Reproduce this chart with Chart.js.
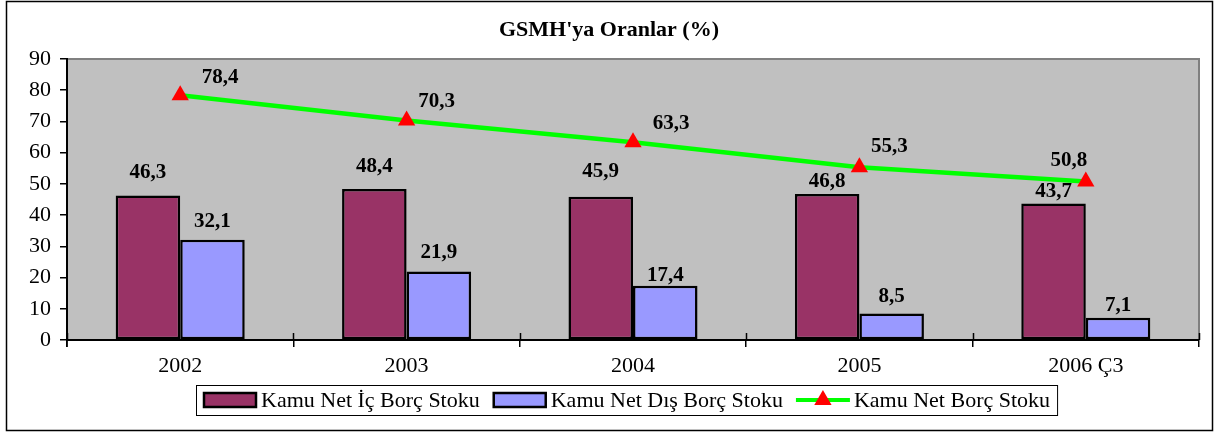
<!DOCTYPE html>
<html>
<head>
<meta charset="utf-8">
<script src="https://cdn.jsdelivr.net/npm/chart.js@4/dist/chart.umd.min.js"></script>
<style>
  html, body { margin: 0; padding: 0; background: #fff; }
  #wrap { width: 1218px; height: 434px; }
</style>
</head>
<body>
<div id="wrap"><canvas id="chart" width="1218" height="434"></canvas></div>
<script>
// Chart data
const categories = ['2002', '2003', '2004', '2005', '2006 Ç3'];
const icBorc = [46.3, 48.4, 45.9, 46.8, 43.7];
const disBorc = [32.1, 21.9, 17.4, 8.5, 7.1];
const netBorc = [78.4, 70.3, 63.3, 55.3, 50.8];
const seriesNames = ['Kamu Net İç Borç Stoku', 'Kamu Net Dış Borç Stoku', 'Kamu Net Borç Stoku'];
const titleText = "GSMH'ya Oranlar (%)";

// label nudges (px), like the hand-moved labels in the original
const icLabelDy = [-23, -22, -25, -12, -12];
const disLabelDy = [-18, -19, -10, -17, -12];
const netLabelOffset = [[40, -18], [30, -19], [38, -19], [30, -21], [-17, -21]];

const FONT = 'Liberation Serif, Times New Roman, serif';
Chart.defaults.font.family = FONT;
Chart.defaults.color = '#000';

// Background, outer frame and plot area
const framePlugin = {
  id: 'frame',
  beforeDraw(chart) {
    const { ctx, chartArea: a } = chart;
    ctx.save();
    ctx.fillStyle = '#fff';
    ctx.fillRect(0, 0, chart.width, chart.height);
    ctx.strokeStyle = '#000';
    ctx.lineWidth = 1.5;
    ctx.strokeRect(6.5, 1.5, 1206, 429);
    ctx.fillStyle = '#C0C0C0';
    ctx.fillRect(a.left, a.top, a.right - a.left, a.bottom - a.top);
    ctx.strokeStyle = '#808080';
    ctx.lineWidth = 2;
    ctx.beginPath();
    ctx.moveTo(a.left, a.top);
    ctx.lineTo(a.right, a.top);
    ctx.lineTo(a.right, a.bottom);
    ctx.stroke();
    ctx.restore();
  },
  // tick marks crossing the category axis, Excel style
  beforeDatasetsDraw(chart) {
    const { ctx, chartArea: a } = chart;
    const xs = chart.scales.x;
    ctx.save();
    ctx.strokeStyle = '#000';
    ctx.lineWidth = 1.5;
    ctx.beginPath();
    for (let i = 0; i <= categories.length; i++) {
      const px = Math.round(xs.getPixelForValue(i - 0.5)) + 0.5;
      ctx.moveTo(px, a.bottom - 7);
      ctx.lineTo(px, a.bottom);
    }
    ctx.moveTo(a.left, a.bottom);
    ctx.lineTo(a.left, a.bottom + 7);
    ctx.stroke();
    ctx.restore();
  }
};

// Value labels
const labelPlugin = {
  id: 'valueLabels',
  afterDatasetsDraw(chart) {
    const ctx = chart.ctx;
    ctx.save();
    ctx.font = 'bold 21px ' + FONT;
    ctx.fillStyle = '#000';
    ctx.textAlign = 'center';
    ctx.textBaseline = 'middle';
    const fmt = v => v.toFixed(1).replace('.', ',');
    chart.getDatasetMeta(0).data.forEach((el, i) => {
      ctx.fillText(fmt(icBorc[i]), el.x, el.y + icLabelDy[i]);
    });
    chart.getDatasetMeta(1).data.forEach((el, i) => {
      ctx.fillText(fmt(disBorc[i]), el.x, el.y + disLabelDy[i]);
    });
    chart.getDatasetMeta(2).data.forEach((el, i) => {
      ctx.fillText(fmt(netBorc[i]), el.x + netLabelOffset[i][0], el.y + netLabelOffset[i][1]);
    });
    ctx.restore();
  }
};

// Boxed legend drawn at the bottom
const legendPlugin = {
  id: 'boxLegend',
  afterDraw(chart) {
    const ctx = chart.ctx;
    const ds = chart.data.datasets;
    ctx.save();
    ctx.font = '22px ' + FONT;
    const symW = 54, gapText = 4, gapItem = 13, pad = 7;
    const widths = ds.map(d => ctx.measureText(d.label).width);
    let total = pad * 2 - gapItem;
    widths.forEach(w => { total += symW + gapText + w + gapItem; });
    const top = 385, h = 30, cx = 627;
    const left = Math.round(cx - total / 2);
    ctx.fillStyle = '#fff';
    ctx.fillRect(left, top, total, h);
    ctx.strokeStyle = '#000';
    ctx.lineWidth = 1;
    ctx.strokeRect(left + 0.5, top + 0.5, total, h);
    let x = left + pad;
    const my = top + h / 2;
    ds.forEach((d, i) => {
      if (d.type === 'line') {
        ctx.strokeStyle = d.borderColor;
        ctx.lineWidth = 4;
        ctx.beginPath();
        ctx.moveTo(x, my);
        ctx.lineTo(x + symW, my);
        ctx.stroke();
        ctx.fillStyle = d.pointBackgroundColor;
        const r = 10, px = x + symW / 2;
        ctx.beginPath();
        ctx.moveTo(px, my - r);
        ctx.lineTo(px + r * 0.866, my + r / 2);
        ctx.lineTo(px - r * 0.866, my + r / 2);
        ctx.closePath();
        ctx.fill();
      } else {
        ctx.fillStyle = d.backgroundColor;
        ctx.fillRect(x + 1, my - 7, symW - 2, 14);
        ctx.strokeStyle = '#000';
        ctx.lineWidth = 2.5;
        ctx.strokeRect(x + 1, my - 7, symW - 2, 14);
      }
      x += symW + gapText;
      ctx.fillStyle = '#000';
      ctx.textAlign = 'left';
      ctx.textBaseline = 'middle';
      ctx.fillText(d.label, x, my + 1);
      x += widths[i] + gapItem;
    });
    ctx.restore();
  }
};

new Chart(document.getElementById('chart'), {
  type: 'bar',
  data: {
    labels: categories,
    datasets: [
      {
        label: seriesNames[0],
        data: icBorc,
        backgroundColor: '#993366',
        borderColor: '#000',
        borderWidth: 2.5,
        borderSkipped: false,
        barPercentage: 1,
        categoryPercentage: 0.57,
        order: 1
      },
      {
        label: seriesNames[1],
        data: disBorc,
        backgroundColor: '#9999FF',
        borderColor: '#000',
        borderWidth: 2.5,
        borderSkipped: false,
        barPercentage: 1,
        categoryPercentage: 0.57,
        order: 1
      },
      {
        type: 'line',
        label: seriesNames[2],
        data: netBorc,
        borderColor: '#00FF00',
        borderWidth: 4.5,
        pointStyle: 'triangle',
        pointRadius: 10,
        pointBackgroundColor: '#FF0000',
        pointBorderColor: '#FF0000',
        pointBorderWidth: 0,
        tension: 0,
        order: 0
      }
    ]
  },
  options: {
    responsive: false,
    animation: false,
    layout: { padding: { left: 19, right: 19, top: 0, bottom: 49 } },
    plugins: {
      legend: { display: false },
      tooltip: { enabled: false },
      title: {
        display: true,
        text: titleText,
        font: { family: FONT, size: 22, weight: 'bold', lineHeight: 1.2 },
        color: '#000',
        padding: { top: 17, bottom: 15.6 }
      }
    },
    scales: {
      x: {
        offset: true,
        grid: { display: true, offset: true, drawOnChartArea: false, color: '#000', tickLength: 7, lineWidth: 1.5 },
        border: { display: true, color: '#000', width: 2 },
        ticks: { font: { family: FONT, size: 22 }, color: '#000', padding: 6, maxRotation: 0 },
        afterFit(scale) { scale.height = 45; }
      },
      y: {
        min: 0,
        max: 90,
        ticks: { stepSize: 10, font: { family: FONT, size: 22 }, color: '#000', padding: 9 },
        grid: { display: true, drawOnChartArea: false, color: '#000', tickLength: 7, lineWidth: 1.5 },
        border: { display: true, color: '#000', width: 2 },
        afterFit(scale) { scale.width = 48; }
      }
    }
  },
  plugins: [framePlugin, labelPlugin, legendPlugin]
});
</script>
</body>
</html>
